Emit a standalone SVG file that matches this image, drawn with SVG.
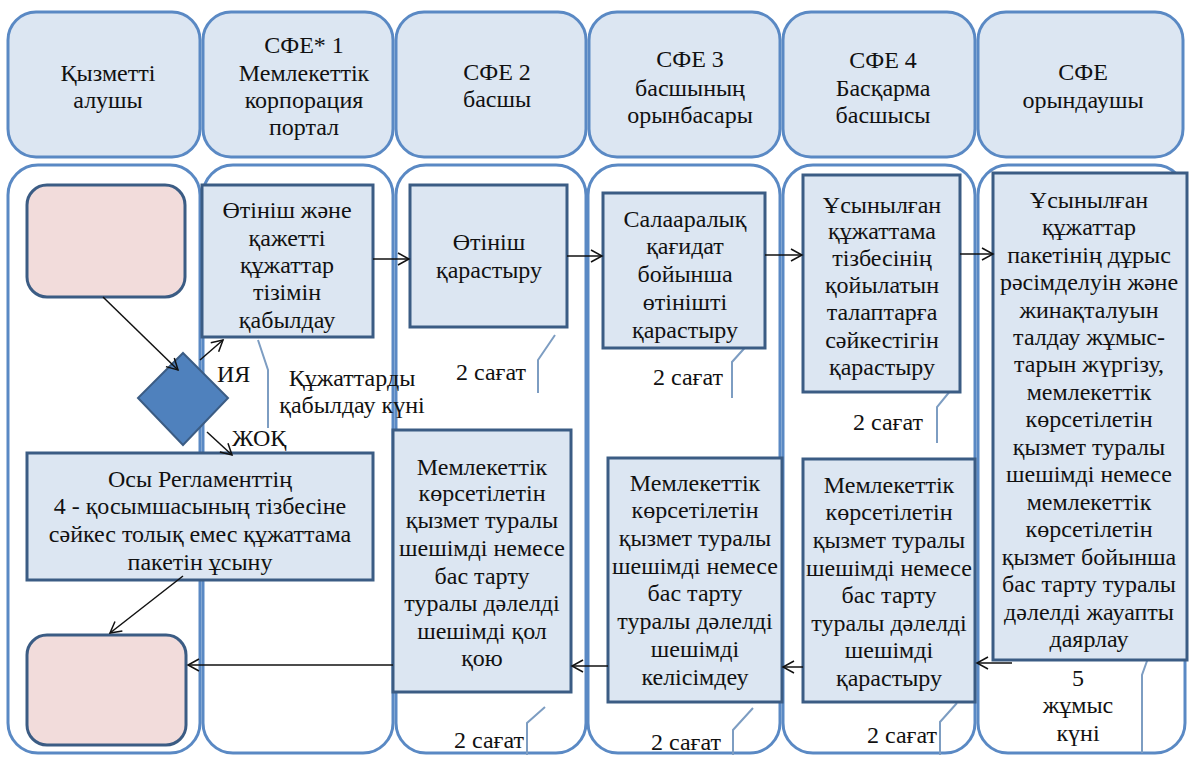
<svg xmlns="http://www.w3.org/2000/svg" width="1190" height="759" viewBox="0 0 1190 759">
<style>
.hdr{fill:#dce6f2;stroke:#5a89c4;stroke-width:3}
.lane{fill:#ffffff;stroke:#5a89c4;stroke-width:3}
.box{fill:#dce6f2;stroke:#3b5c84;stroke-width:3}
.pink{fill:#f2dcdb;stroke:#3b5c84;stroke-width:3}
.dia{fill:#4f81bd;stroke:#3b5c84;stroke-width:2}
.arr{stroke:#111;stroke-width:1.5;fill:none;marker-end:url(#ah)}
.co{stroke:#7d9dc2;stroke-width:2;fill:none}
</style>
<defs>
<marker id="ah" markerWidth="14" markerHeight="14" refX="12" refY="7" orient="auto" markerUnits="userSpaceOnUse">
<path d="M1,1 L12,7 L1,13" fill="none" stroke="#111" stroke-width="1.5"/>
</marker>
</defs>
<rect width="1190" height="759" fill="#ffffff"/>
<g id="lanes">
<rect class="lane" x="8" y="165" width="192" height="588" rx="30"/>
<rect class="lane" x="203" y="165" width="190" height="588" rx="30"/>
<rect class="lane" x="396" y="165" width="190" height="588" rx="30"/>
<rect class="lane" x="588" y="165" width="192" height="588" rx="30"/>
<rect class="lane" x="783" y="165" width="192" height="588" rx="30"/>
<rect class="lane" x="978" y="165" width="207" height="588" rx="30"/>
</g>
<g id="headers" font-size="24" text-anchor="middle" fill="#111">
<g id="h1"><rect class="hdr" x="8" y="12" width="192" height="145" rx="28"/><text font-family="Liberation Serif" x="108" y="81">Қызметті</text><text font-family="Liberation Serif" x="108" y="108">алушы</text></g>
<g id="h2"><rect class="hdr" x="203" y="12" width="190" height="145" rx="28"/><text font-family="Liberation Serif" x="304" y="53">СФЕ* 1</text><text font-family="Liberation Serif" x="304" y="81">Мемлекеттік</text><text font-family="Liberation Serif" x="304" y="108">корпорация</text><text font-family="Liberation Serif" x="304" y="135">портал</text></g>
<g id="h3"><rect class="hdr" x="396" y="12" width="190" height="145" rx="28"/><text font-family="Liberation Serif" x="497" y="80">СФЕ 2</text><text font-family="Liberation Serif" x="497" y="107">басшы</text></g>
<g id="h4"><rect class="hdr" x="589" y="12" width="191" height="145" rx="28"/><text font-family="Liberation Serif" x="690" y="67">СФЕ 3</text><text font-family="Liberation Serif" x="690" y="96">басшының</text><text font-family="Liberation Serif" x="690" y="123">орынбасары</text></g>
<g id="h5"><rect class="hdr" x="783" y="12" width="192" height="145" rx="28"/><text font-family="Liberation Serif" x="883" y="68">СФЕ 4</text><text font-family="Liberation Serif" x="883" y="96">Басқарма</text><text font-family="Liberation Serif" x="883" y="123">басшысы</text></g>
<g id="h6"><rect class="hdr" x="978" y="12" width="205" height="145" rx="28"/><text font-family="Liberation Serif" x="1083" y="80">СФЕ</text><text font-family="Liberation Serif" x="1083" y="108">орындаушы</text></g>
</g>
<g id="callouts">
<polyline class="co" points="258,340 268,370 268,428"/>
<polyline class="co" points="555,335 538,360 538,393"/>
<polyline class="co" points="750,342 732,362 732,398"/>
<polyline class="co" points="955,385 937,407 937,443"/>
<polyline class="co" points="1152,647 1142,675 1142,753"/>
<polyline class="co" points="957,703 940,722 940,755"/>
<polyline class="co" points="545,707 527,723 527,755"/>
<polyline class="co" points="753,708 733,730 733,755"/>
</g>
<g id="start"><rect class="pink" x="27" y="185" width="158" height="112" rx="20"/></g>
<g id="end"><rect class="pink" x="27" y="635" width="159" height="110" rx="20"/></g>
<g id="decision"><polygon class="dia" points="183,353 228,398 183,445 138,398"/></g>
<g id="labels" font-size="24" text-anchor="middle" fill="#111">
<text font-family="Liberation Serif" text-anchor="start" x="217" y="382">ИЯ</text>
<text font-family="Liberation Serif" text-anchor="start" x="232" y="446">ЖОҚ</text>
<text font-family="Liberation Serif" x="352" y="386">Құжаттарды</text>
<text font-family="Liberation Serif" x="352" y="413">қабылдау күні</text>
<text font-family="Liberation Serif" x="491" y="380">2 сағат</text>
<text font-family="Liberation Serif" x="688" y="385">2 сағат</text>
<text font-family="Liberation Serif" x="888" y="430">2 сағат</text>
<text font-family="Liberation Serif" x="1078" y="686">5</text>
<text font-family="Liberation Serif" x="1078" y="713">жұмыс</text>
<text font-family="Liberation Serif" x="1078" y="741">күні</text>
<text font-family="Liberation Serif" x="902" y="743">2 сағат</text>
<text font-family="Liberation Serif" x="489" y="748">2 сағат</text>
<text font-family="Liberation Serif" x="686" y="750">2 сағат</text>
</g>
<g id="nodes" font-size="24" text-anchor="middle" fill="#111">
<g id="n1"><rect class="box" x="202" y="185" width="171" height="152"/>
<text font-family="Liberation Serif" x="287" y="218">Өтініш және</text><text font-family="Liberation Serif" x="287" y="246">қажетті</text><text font-family="Liberation Serif" x="287" y="273">құжаттар</text><text font-family="Liberation Serif" x="287" y="300">тізімін</text><text font-family="Liberation Serif" x="287" y="328">қабылдау</text></g>
<g id="n2"><rect class="box" x="27" y="453" width="346" height="127"/>
<text font-family="Liberation Serif" x="200" y="487">Осы Регламенттің</text><text font-family="Liberation Serif" x="200" y="514">4 - қосымшасының тізбесіне</text><text font-family="Liberation Serif" x="200" y="542">сәйкес толық емес құжаттама</text><text font-family="Liberation Serif" x="200" y="570">пакетін ұсыну</text></g>
<g id="n3"><rect class="box" x="410" y="185" width="157" height="142"/>
<text font-family="Liberation Serif" x="489" y="250">Өтініш</text><text font-family="Liberation Serif" x="489" y="278">қарастыру</text></g>
<g id="n4"><rect class="box" x="603" y="193" width="162" height="155"/>
<text font-family="Liberation Serif" x="685" y="227">Салааралық</text><text font-family="Liberation Serif" x="685" y="254">қағидат</text><text font-family="Liberation Serif" x="685" y="282">бойынша</text><text font-family="Liberation Serif" x="685" y="310">өтінішті</text><text font-family="Liberation Serif" x="685" y="338">қарастыру</text></g>
<g id="n5"><rect class="box" x="803" y="175" width="157" height="217"/>
<text font-family="Liberation Serif" x="882" y="213">Ұсынылған</text><text font-family="Liberation Serif" x="882" y="239">құжаттама</text><text font-family="Liberation Serif" x="882" y="266">тізбесінің</text><text font-family="Liberation Serif" x="882" y="293">қойылатын</text><text font-family="Liberation Serif" x="882" y="320">талаптарға</text><text font-family="Liberation Serif" x="882" y="348">сәйкестігін</text><text font-family="Liberation Serif" x="882" y="375">қарастыру</text></g>
<g id="n6"><rect class="box" x="993" y="173" width="194" height="487"/>
<text font-family="Liberation Serif" x="1089" y="208">Ұсынылған</text><text font-family="Liberation Serif" x="1089" y="235">құжаттар</text><text font-family="Liberation Serif" x="1089" y="263">пакетінің дұрыс</text><text font-family="Liberation Serif" x="1089" y="290">рәсімделуін және</text><text font-family="Liberation Serif" x="1089" y="318">жинақталуын</text><text font-family="Liberation Serif" x="1089" y="345">талдау жұмыс-</text><text font-family="Liberation Serif" x="1089" y="372">тарын жүргізу,</text><text font-family="Liberation Serif" x="1089" y="400">мемлекеттік</text><text font-family="Liberation Serif" x="1089" y="427">көрсетілетін</text><text font-family="Liberation Serif" x="1089" y="455">қызмет туралы</text><text font-family="Liberation Serif" x="1089" y="482">шешімді немесе</text><text font-family="Liberation Serif" x="1089" y="510">мемлекеттік</text><text font-family="Liberation Serif" x="1089" y="537">көрсетілетін</text><text font-family="Liberation Serif" x="1089" y="565">қызмет бойынша</text><text font-family="Liberation Serif" x="1089" y="592">бас тарту туралы</text><text font-family="Liberation Serif" x="1089" y="620">дәлелді жауапты</text><text font-family="Liberation Serif" x="1089" y="647">даярлау</text></g>
<g id="n7"><rect class="box" x="803" y="459" width="172" height="243"/>
<text font-family="Liberation Serif" x="889" y="493">Мемлекеттік</text><text font-family="Liberation Serif" x="889" y="520">көрсетілетін</text><text font-family="Liberation Serif" x="889" y="548">қызмет туралы</text><text font-family="Liberation Serif" x="889" y="576">шешімді немесе</text><text font-family="Liberation Serif" x="889" y="603">бас тарту</text><text font-family="Liberation Serif" x="889" y="631">туралы дәлелді</text><text font-family="Liberation Serif" x="889" y="658">шешімді</text><text font-family="Liberation Serif" x="889" y="686">қарастыру</text></g>
<g id="n8"><rect class="box" x="608" y="458" width="174" height="244"/>
<text font-family="Liberation Serif" x="695" y="491">Мемлекеттік</text><text font-family="Liberation Serif" x="695" y="518">көрсетілетін</text><text font-family="Liberation Serif" x="695" y="546">қызмет туралы</text><text font-family="Liberation Serif" x="695" y="574">шешімді немесе</text><text font-family="Liberation Serif" x="695" y="601">бас тарту</text><text font-family="Liberation Serif" x="695" y="629">туралы дәлелді</text><text font-family="Liberation Serif" x="695" y="657">шешімді</text><text font-family="Liberation Serif" x="695" y="685">келісімдеу</text></g>
<g id="n9"><rect class="box" x="393" y="430" width="178" height="262"/>
<text font-family="Liberation Serif" x="482" y="475">Мемлекеттік</text><text font-family="Liberation Serif" x="482" y="501">көрсетілетін</text><text font-family="Liberation Serif" x="482" y="528">қызмет туралы</text><text font-family="Liberation Serif" x="482" y="556">шешімді немесе</text><text font-family="Liberation Serif" x="482" y="584">бас тарту</text><text font-family="Liberation Serif" x="482" y="611">туралы дәлелді</text><text font-family="Liberation Serif" x="482" y="639">шешімді қол</text><text font-family="Liberation Serif" x="482" y="666">қою</text></g>
</g>
<g id="connectors">
<line class="arr" x1="103" y1="297" x2="178" y2="370"/>
<line class="arr" x1="200" y1="360" x2="223" y2="340"/>
<line class="arr" x1="207" y1="432" x2="232" y2="455"/>
<line class="arr" x1="183" y1="576" x2="110" y2="633"/>
<line class="arr" x1="373" y1="259" x2="409" y2="259"/>
<line class="arr" x1="567" y1="256" x2="602" y2="256"/>
<line class="arr" x1="765" y1="255" x2="802" y2="255"/>
<line class="arr" x1="960" y1="254" x2="993" y2="254"/>
<line class="arr" x1="1012" y1="663" x2="977" y2="663"/>
<line class="arr" x1="803" y1="667" x2="783" y2="667"/>
<line class="arr" x1="608" y1="666" x2="572" y2="666"/>
<line class="arr" x1="393" y1="665" x2="188" y2="665"/>
</g>
</svg>
